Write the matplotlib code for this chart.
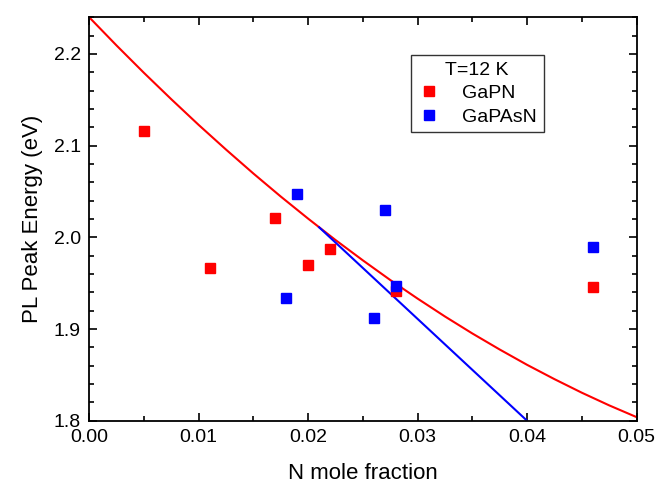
import matplotlib.pyplot as plt
from matplotlib.ticker import MultipleLocator

plt.rcParams['font.family'] = ['Liberation Sans', 'DejaVu Sans']

# measured PL peaks
gapn_x = [0.005, 0.011, 0.017, 0.020, 0.022, 0.028, 0.046]
gapn_y = [2.116, 1.967, 2.021, 1.970, 1.987, 1.941, 1.946]
gapasn_x = [0.018, 0.019, 0.026, 0.027, 0.028, 0.046]
gapasn_y = [1.934, 2.047, 1.912, 2.030, 1.947, 1.990]

# red fit curve
fit_x = [0.0, 0.0025, 0.005, 0.0075, 0.010, 0.0125, 0.015, 0.0175, 0.020, 0.0225, 0.025,
         0.0275, 0.030, 0.0325, 0.035, 0.0375, 0.040, 0.0425, 0.045, 0.0475, 0.050]
fit_y = [2.2400, 2.2092, 2.1794, 2.1506, 2.1226, 2.0957, 2.0696, 2.0445, 2.0204, 1.9971, 1.9749,
         1.9535, 1.9332, 1.9137, 1.8952, 1.8777, 1.8610, 1.8454, 1.8306, 1.8168, 1.8040]

# blue line
line_x = [0.021, 0.040]
line_y = [2.011, 1.800]

fig = plt.figure(figsize=(6.61, 4.87), dpi=100)
ax = fig.add_axes([0.135, 0.136, 0.828, 0.8285])

ax.plot(fit_x, fit_y, color='#ff0000', lw=1.5)
ax.plot(line_x, line_y, color='#0000ff', lw=1.5)
ax.plot(gapn_x, gapn_y, 's', color='#ff0000', ms=6.5, label='GaPN')
ax.plot(gapasn_x, gapasn_y, 's', color='#0000ff', ms=6.5, label='GaPAsN')

ax.set_xlim(0, 0.05)
ax.set_ylim(1.8, 2.24)
ax.xaxis.set_major_locator(MultipleLocator(0.01))
ax.xaxis.set_minor_locator(MultipleLocator(0.005))
ax.yaxis.set_major_locator(MultipleLocator(0.1))
ax.yaxis.set_minor_locator(MultipleLocator(0.02))
ax.xaxis.set_major_formatter(plt.FormatStrFormatter('%.2f'))
ax.yaxis.set_major_formatter(plt.FormatStrFormatter('%.1f'))
ax.tick_params(which='both', direction='in', top=True, right=True, width=1.2, labelsize=14)
ax.tick_params(which='major', length=6, pad=6)
ax.tick_params(which='minor', length=3.5)
for s in ax.spines.values():
    s.set_linewidth(1.3)

ax.set_xlabel('N mole fraction', fontsize=16, labelpad=12)
ax.set_ylabel('PL Peak Energy (eV)', fontsize=16, labelpad=8)

leg = ax.legend(title='T=12 K', loc='upper left', bbox_to_anchor=(0.587, 0.907),
                borderaxespad=0, fontsize=14, title_fontsize=14, fancybox=False,
                framealpha=1, edgecolor='#333333', handletextpad=1.1,
                handlelength=1.2, borderpad=0.35, labelspacing=0.3)
leg.get_frame().set_linewidth(1.0)

plt.savefig('out.png')
